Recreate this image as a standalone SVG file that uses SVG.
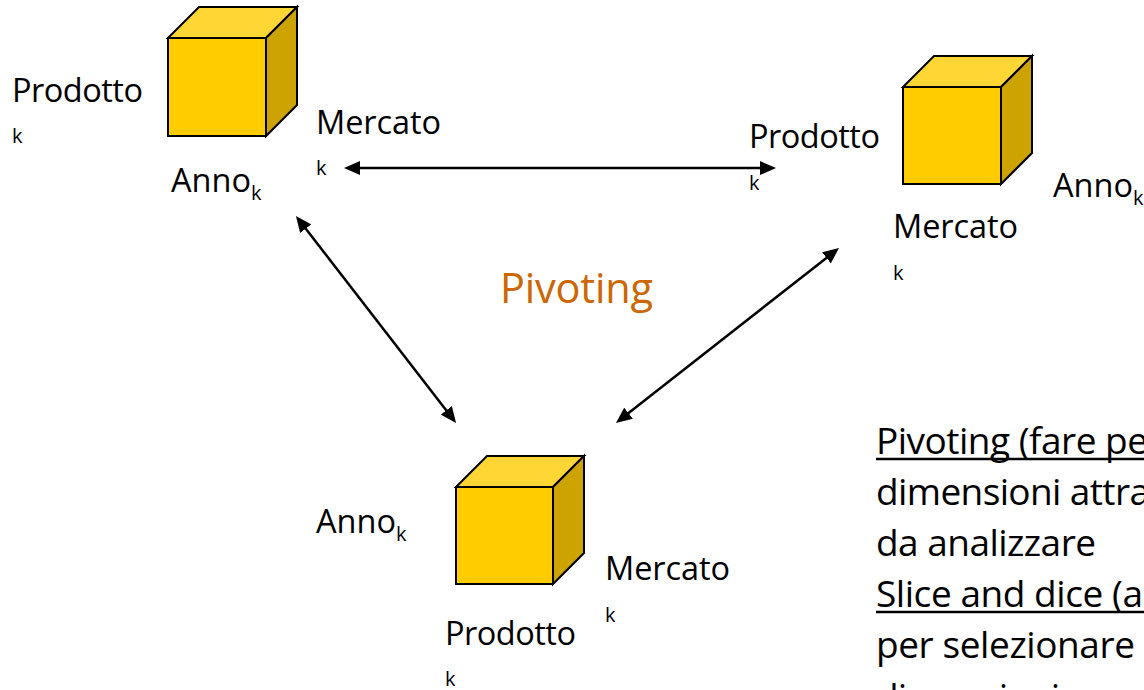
<svg xmlns="http://www.w3.org/2000/svg" width="1144" height="690" viewBox="0 0 1144 690">
<style>
  text { font-family: "Open Sans", "Noto Sans", "Liberation Sans", sans-serif; fill: #000; }
  .lbl { font-size: 32.5px; }
  .k { font-size: 20px; }
  .body { font-size: 37px; }
  .front { fill: #FFCC00; stroke: #000; stroke-width: 2; stroke-linejoin: miter; }
  .top { fill: #FFD633; stroke: #000; stroke-width: 2; stroke-linejoin: miter; }
  .side { fill: #CCA300; stroke: #000; stroke-width: 2; stroke-linejoin: miter; }
  .conn { stroke: #000; stroke-width: 2.5; fill: none; marker-start: url(#ah); marker-end: url(#ah); }
  .ul { stroke: #000; stroke-width: 2.5; }
</style>
<defs>
  <marker id="ah" markerUnits="userSpaceOnUse" markerWidth="16" markerHeight="14" refX="4" refY="7" orient="auto-start-reverse" viewBox="0 0 16 14">
    <path d="M0,0 L16,7 L0,14 Z" fill="#000"/>
  </marker>
</defs>
<rect width="1144" height="690" fill="#fff"/>

<g id="cube1">
  <rect class="front" x="168" y="38" width="98" height="98"/>
  <path class="top" d="M168,38 L199,7 L297,7 L266,38 Z"/>
  <path class="side" d="M266,38 L297,7 L297,105 L266,136 Z"/>
  <text class="lbl" x="12" y="102" textLength="131">Prodotto</text>
  <text class="k" x="12" y="143">k</text>
  <text class="lbl" x="316" y="134" textLength="125">Mercato</text>
  <text class="k" x="316" y="175">k</text>
  <text x="171" y="192"><tspan class="lbl">Anno</tspan><tspan class="k" dy="8">k</tspan></text>
</g>

<g id="cube2">
  <rect class="front" x="903" y="87" width="98" height="97"/>
  <path class="top" d="M903,87 L934,56 L1032,56 L1001,87 Z"/>
  <path class="side" d="M1001,87 L1032,56 L1032,153 L1001,184 Z"/>
  <text class="lbl" x="749" y="148" textLength="131">Prodotto</text>
  <text class="k" x="749" y="190">k</text>
  <text x="1053" y="197"><tspan class="lbl">Anno</tspan><tspan class="k" dy="8">k</tspan></text>
  <text class="lbl" x="893" y="238" textLength="125">Mercato</text>
  <text class="k" x="893" y="280">k</text>
</g>

<g id="cube3">
  <rect class="front" x="456" y="487" width="97" height="97"/>
  <path class="top" d="M456,487 L487,456 L584,456 L553,487 Z"/>
  <path class="side" d="M553,487 L584,456 L584,553 L553,584 Z"/>
  <text x="316" y="533"><tspan class="lbl">Anno</tspan><tspan class="k" dy="8">k</tspan></text>
  <text class="lbl" x="605" y="580" textLength="125">Mercato</text>
  <text class="k" x="605" y="622">k</text>
  <text class="lbl" x="445" y="645" textLength="131">Prodotto</text>
  <text class="k" x="445" y="686">k</text>
</g>

<g id="connectors">
  <line class="conn" x1="356" y1="168" x2="764" y2="168"/>
  <line class="conn" x1="303.3" y1="225.5" x2="448.7" y2="413.5"/>
  <line class="conn" x1="625.4" y1="415.6" x2="829.6" y2="255.4"/>
</g>

<g id="pivoting-label">
  <text x="500" y="303" style="font-size:41.5px; fill:#CC6600" textLength="153">Pivoting</text>
</g>

<g id="description">
  <text class="body" x="876" y="454" textLength="272">Pivoting (fare pe</text>
  <line class="ul" x1="876" y1="459" x2="1144" y2="459"/>
  <text class="body" x="876" y="505" textLength="274">dimensioni attra</text>
  <text class="body" x="876" y="556" textLength="220">da analizzare</text>
  <text class="body" x="876" y="607" textLength="267">Slice and dice (a</text>
  <line class="ul" x1="876" y1="612" x2="1144" y2="612"/>
  <text class="body" x="876" y="658" textLength="259">per selezionare</text>
  <text class="body" x="876" y="710" textLength="184">dimensioni</text>
</g>
</svg>
